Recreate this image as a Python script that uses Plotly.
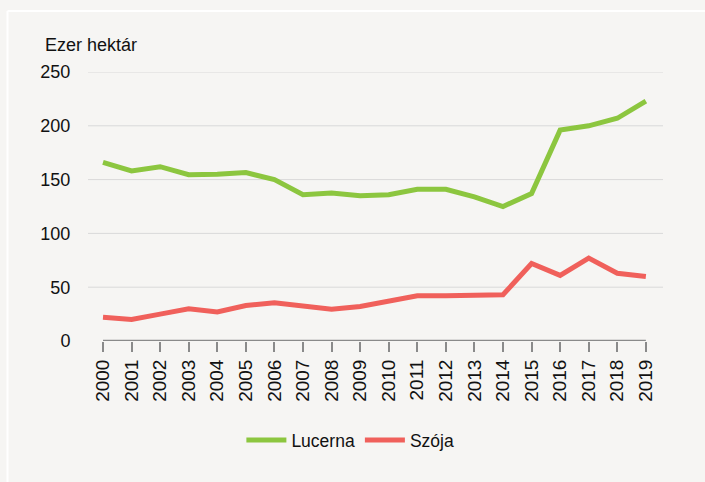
import plotly.graph_objects as go

years = list(range(2000, 2020))
lucerna = [166, 158, 162, 154.5, 155, 156.5, 150, 136, 137.5, 135, 136, 141, 141, 134, 125, 137, 196, 200, 207, 223]
szoja = [22, 20, 25, 30, 27, 33, 35.5, 32.5, 29.5, 32, 37, 42, 42, 43, 43, 72, 61, 77, 63, 60]
y_ticks = [0, 50, 100, 150, 200, 250]
y_title = "Ezer hektár"
series_names = ["Lucerna", "Szója"]

GREEN = "#8cc63f"
RED = "#f0605b"
BG = "#f6f5f3"
AXIS = "#8a8a8a"
GRID = "#d9d9d9"
FONT = "Liberation Sans, Arial, sans-serif"

# plot area pixel geometry
L, R, T, B = 88, 663, 72, 341
W, H = 705, 482
def px_x(p):
    return (p - L) / (R - L)
def px_y(p):
    return (B - p) / (B - T)

fig = go.Figure()
fig.add_trace(go.Scatter(x=years, y=lucerna, mode="lines", name=series_names[0],
                         line=dict(color=GREEN, width=5)))
fig.add_trace(go.Scatter(x=years, y=szoja, mode="lines", name=series_names[1],
                         line=dict(color=RED, width=5)))

shapes = []
for v in y_ticks[1:]:
    shapes.append(dict(type="line", xref="paper", yref="y", x0=0, x1=1, y0=v, y1=v,
                       line=dict(color=GRID, width=1), layer="below"))
shapes.append(dict(type="line", xref="x", yref="y", x0=years[0], x1=years[-1], y0=0, y1=0,
                   line=dict(color=AXIS, width=2.5), layer="above"))
# white frame (top and left)
shapes.append(dict(type="line", xref="paper", yref="paper", x0=px_x(7.5), x1=px_x(W + 2),
                   y0=px_y(11), y1=px_y(11), line=dict(color="white", width=2)))
shapes.append(dict(type="line", xref="paper", yref="paper", x0=px_x(7.5), x1=px_x(7.5),
                   y0=px_y(11), y1=px_y(H + 2), line=dict(color="white", width=2)))

fig.update_layout(
    width=W, height=H,
    margin=dict(l=L, r=W - R, t=T, b=H - B),
    paper_bgcolor=BG, plot_bgcolor=BG,
    font=dict(family=FONT, size=18, color="#111111"),
    showlegend=True,
    legend=dict(orientation="h", xref="container", yref="container",
                x=0.497, xanchor="center", y=1 - 440 / H, yanchor="middle",
                font=dict(family=FONT, size=17.5), bgcolor="rgba(0,0,0,0)",
                itemwidth=40, tracegroupgap=0),
    shapes=shapes,
    annotations=[dict(text=y_title, xref="paper", yref="paper", x=px_x(43), y=px_y(45),
                      xanchor="left", yanchor="middle", showarrow=False,
                      font=dict(family=FONT, size=18, color="#111111"))],
    xaxis=dict(range=[years[0] - 0.525, years[-1] + 0.6], tickvals=years,
               ticktext=[str(y) for y in years], tickangle=-90,
               ticks="outside", ticklen=10, tickwidth=2, tickcolor=AXIS,
               showgrid=False, zeroline=False, showline=False,
               tickfont=dict(family=FONT, size=19, color="#111111")),
    yaxis=dict(range=[0, 250], tickvals=y_ticks, showgrid=False, zeroline=False,
               showline=False, ticks="outside", ticklen=13, tickcolor="rgba(0,0,0,0)",
               tickfont=dict(family=FONT, size=18, color="#111111")),
)

fig.write_html(
    "out.html",
    config={"displayModeBar": False},
    post_script="document.body.style.margin='0';document.body.style.background='#f6f5f3';"
                "document.documentElement.style.overflow='hidden';",
)
